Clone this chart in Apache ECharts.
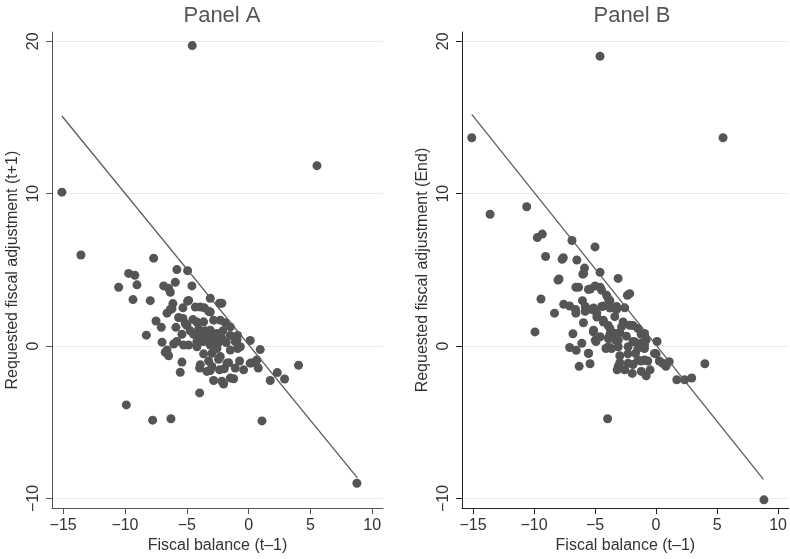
<!DOCTYPE html>
<html>
<head>
<meta charset="utf-8">
<title>Fiscal balance vs requested fiscal adjustment</title>
<script src="https://cdn.jsdelivr.net/npm/echarts@6/dist/echarts.min.js"></script>
<style>
  html, body { margin: 0; padding: 0; background: #fff; }
  #chart { width: 790px; height: 559px; }
</style>
</head>
<body>
<div id="chart"></div>
<script>
// 刻度
var xTicks = [-15, -10, -5, 0, 5, 10];
var yTicks = [-10, 0, 10, 20];

// Panel A: fiscal balance (t-1) vs requested adjustment (t+1)
var pointsA = [
  [-4.56, 19.72], [5.53, 11.84], [-15.1, 10.1], [-13.56, 5.98], [-7.68, 5.77], [8.76, -9.0],
  [-9.89, -3.86], [-7.76, -4.86], [-6.28, -4.77], [1.08, -4.91], [4.04, -1.26], [2.91, -2.16],
  [2.32, -1.74], [1.75, -2.26], [0.94, -0.23], [0.13, 0.37], [0.78, -1.44], [-10.51, 3.86],
  [-9.7, 4.77], [-9.2, 4.65], [-9.03, 4.02], [-9.35, 3.05], [-7.95, 2.98], [-8.27, 0.72],
  [-5.8, 5.02], [-4.93, 4.95], [-6.87, 3.95], [-6.47, 3.79], [-5.93, 4.19], [-4.58, 3.95],
  [-3.1, 3.14], [-2.35, 2.81], [-2.16, 2.81], [-4.93, 2.95], [-5.31, 2.51], [-6.12, 2.79],
  [-6.33, 2.4], [-6.6, 2.16], [-4.31, 2.56], [-3.9, 2.56], [-3.58, 2.51], [-3.23, 2.28],
  [-5.66, 1.88], [-5.31, 1.81], [-7.49, 1.65], [-7.06, 1.23], [-4.5, 1.74], [-4.18, 1.58],
  [-2.83, 1.7], [-2.29, 1.7], [-1.89, 1.53], [-5.88, 1.23], [-4.99, 1.35], [-4.72, 1.0],
  [-4.04, 1.12], [-3.5, 1.0], [-5.39, 0.77], [-4.45, 0.77], [-3.91, 0.65], [-3.23, 0.77],
  [-2.7, 0.65], [-2.08, 1.0], [-1.48, 0.7], [-0.89, 0.7], [-1.08, 0.3], [-7.0, 0.26],
  [-6.06, 0.14], [-5.8, 0.3], [-4.85, 0.07], [-4.18, 0.3], [-3.64, 0.3], [-3.1, 0.07],
  [-2.43, 0.23], [-1.81, 0.23], [-0.89, -0.16], [-6.74, -0.4], [-6.47, -0.63], [-3.64, -0.51],
  [-2.96, -0.47], [-2.56, -0.16], [-5.39, -1.05], [-5.53, -1.72], [-3.96, -1.44], [-3.1, -1.6],
  [-2.43, -0.86], [-2.35, -1.56], [-2.83, -2.26], [-2.02, -2.49], [-1.21, -2.14], [-1.62, -1.09],
  [-1.08, -1.44], [-0.73, -0.98], [-0.4, -1.56], [0.27, -1.09], [-3.96, -3.07], [-1.97, -1.49],
  [-3.23, -0.98], [-4.07, 0.23], [-3.1, 2.24], [-1.48, 1.26], [-5.12, 1.48], [-3.64, 1.59],
  [-3.1, 1.04], [-2.56, 0.83], [-3.37, 0.5], [-2.83, 0.29], [-2.16, 0.5], [-0.94, 0.4],
  [-6.6, -0.26], [-5.26, 0.07], [-4.18, -0.04], [-2.29, -0.69], [-1.48, -0.26], [-0.67, -0.04],
  [-3.91, -1.23], [-3.37, -1.66], [-2.97, -1.34], [-1.75, -1.12], [0.13, -1.12], [0.67, -0.91],
  [-2.16, -2.31], [-1.48, -2.1], [-6.33, 3.53], [-4.85, 3.0], [-6.2, 2.45]
];
// Panel A 拟合线 (端点)
var fitA = [[-15.1, 15.1], [8.8, -8.65]];

// Panel B: fiscal balance (t-1) vs requested adjustment (End)
var pointsB = [
  [-4.59, 19.02], [-15.1, 13.67], [5.49, 13.67], [-13.6, 8.65], [-10.6, 9.14], [8.84, -10.09],
  [-3.97, -4.77], [-9.92, 0.93], [-9.73, 7.12], [-9.32, 7.35], [-6.89, 6.93], [-5.0, 6.51],
  [-9.05, 5.88], [-7.7, 5.7], [-7.6, 5.8], [-6.49, 5.65], [-5.86, 5.12], [-6.0, 4.72], [-4.59, 4.84],
  [-3.11, 4.44], [-8.03, 4.33], [-6.57, 3.86], [-6.35, 3.86], [-5.54, 3.72], [-5.0, 3.95],
  [-4.46, 3.67], [-4.05, 3.33], [-2.16, 3.44], [-2.35, 3.33], [-9.43, 3.09], [-6.03, 2.98],
  [-7.57, 2.74], [-7.08, 2.63], [-8.32, 2.16], [-6.57, 2.16], [-5.81, 2.28], [-5.27, 2.4],
  [-4.86, 2.16], [-4.32, 2.63], [-3.78, 2.98], [-3.24, 2.4], [-2.57, 2.51], [-5.95, 1.53],
  [-5.14, 0.93], [-4.32, 1.7], [-3.92, 1.35], [-3.38, 1.93], [-2.7, 1.58], [-1.89, 1.35],
  [-6.81, 0.81], [-4.92, 0.3], [-6.08, 0.19], [-7.08, -0.09], [-6.54, -0.28], [-5.54, -0.47],
  [-5.41, -1.16], [-6.3, -1.33], [-4.11, -0.16], [-3.65, -0.16], [-3.78, 0.77], [-3.38, 0.42],
  [-2.97, 0.88], [-2.43, 0.65], [-1.89, 0.3], [-1.22, 0.77], [-0.81, 0.42], [-1.22, 0.19],
  [-0.95, -0.16], [0.08, 0.3], [0.0, -0.51], [0.27, -0.98], [0.81, -1.33], [1.08, -1.02],
  [-2.97, -0.63], [-2.3, -0.51], [-1.68, -0.47], [-2.97, -1.09], [-1.89, -1.21], [-1.22, -0.98],
  [-0.68, -0.98], [-3.19, -1.56], [-2.57, -1.56], [-1.95, -1.79], [-0.49, -1.56], [-0.81, -1.95],
  [1.7, -2.21], [2.35, -2.21], [2.92, -2.09], [4.0, -1.16],
  [-5.93, 4.77], [-7.95, 4.4], [-5.39, 3.75], [-4.58, 3.86], [-3.91, 3.1], [-6.6, 2.4],
  [-5.8, 2.6], [-5.12, 2.5], [-4.45, 2.6], [-3.77, 2.5], [-3.24, 2.6], [-4.85, 1.91],
  [-4.31, 1.58], [-3.77, 1.15], [-3.37, 0.83], [-2.83, 1.26], [-2.16, 1.37], [-1.48, 1.15],
  [-0.94, 0.83], [-5.12, 1.04], [-4.58, 0.61], [-3.91, 0.5], [-3.1, 0.39], [-1.75, 0.29],
  [-0.94, 0.07], [-4.98, 0.39], [-3.91, -0.04], [-3.1, -0.04], [-2.29, -0.04], [-1.48, -0.15],
  [-5.53, -0.48], [-3.1, -1.34], [-2.29, -1.13], [-1.48, -0.91], [-0.94, -0.91], [-0.13, -0.48],
  [0.54, -1.13], [-1.21, -1.66]
];
// Panel B 拟合线 (端点)
var fitB = [[-15.1, 15.2], [8.8, -8.75]];

var FONT = '"Liberation Sans", Arial, Helvetica, sans-serif';

// 负号用 unicode minus
function fmtTick(v) {
  return String(v).replace('-', '\u2212');
}

function makeXAxis(gridIndex, axisColor) {
  return {
    type: 'value',
    gridIndex: gridIndex,
    min: -15.9,
    max: 10.87,
    name: 'Fiscal balance (t\u20131)',
    nameLocation: 'middle',
    nameGap: 27,
    nameTextStyle: { fontFamily: FONT, fontSize: 16, color: '#333' },
    axisLine: { show: true, onZero: false, lineStyle: { color: axisColor, width: 1 } },
    axisTick: { show: true, inside: false, length: 6, customValues: xTicks, lineStyle: { color: axisColor } },
    axisLabel: { customValues: xTicks, margin: 9, fontFamily: FONT, fontSize: 16, color: '#333', formatter: fmtTick },
    splitLine: { show: false }
  };
}

function makeYAxis(gridIndex, title, axisColor) {
  return {
    type: 'value',
    gridIndex: gridIndex,
    min: -10.63,
    max: 20.61,
    name: title,
    nameLocation: 'middle',
    nameGap: 31,
    nameRotate: 90,
    nameTextStyle: { fontFamily: FONT, fontSize: 16, color: '#333' },
    axisLine: { show: true, onZero: false, lineStyle: { color: axisColor, width: 1 } },
    axisTick: { show: true, inside: false, length: 6, customValues: yTicks, lineStyle: { color: axisColor } },
    axisLabel: { customValues: yTicks, rotate: 90, margin: 10, fontFamily: FONT, fontSize: 16, color: '#333', formatter: fmtTick },
    splitLine: { show: true, lineStyle: { color: '#ebebeb', width: 1 } }
  };
}

function makeScatter(idx, data) {
  return {
    type: 'scatter',
    xAxisIndex: idx,
    yAxisIndex: idx,
    data: data,
    symbol: 'circle',
    symbolSize: 9,
    itemStyle: { color: '#555555', opacity: 1 },
    silent: true,
    z: 2
  };
}

function makeFit(idx, data) {
  return {
    type: 'line',
    xAxisIndex: idx,
    yAxisIndex: idx,
    data: data,
    showSymbol: false,
    symbol: 'none',
    lineStyle: { color: '#5c5c5c', width: 1.3 },
    silent: true,
    z: 3
  };
}

var chart = echarts.init(document.getElementById('chart'), null, { renderer: 'canvas' });
chart.setOption({
  backgroundColor: '#ffffff',
  animation: false,
  title: [
    { text: 'Panel A', left: 217, top: 0, textAlign: 'center', textStyle: { fontFamily: FONT, fontSize: 22, fontWeight: 'normal', color: '#555' } },
    { text: 'Panel B', left: 627, top: 0, textAlign: 'center', textStyle: { fontFamily: FONT, fontSize: 22, fontWeight: 'normal', color: '#555' } }
  ],
  grid: [
    { left: 52, top: 32, width: 331, height: 481, containLabel: false },
    { left: 462, top: 32, width: 331, height: 481, containLabel: false }
  ],
  xAxis: [makeXAxis(0, '#555'), makeXAxis(1, '#222')],
  yAxis: [
    makeYAxis(0, 'Requested fiscal adjustment (t+1)', '#555'),
    makeYAxis(1, 'Requested fiscal adjustment (End)', '#222')
  ],
  series: [
    makeScatter(0, pointsA),
    makeFit(0, fitA),
    makeScatter(1, pointsB),
    makeFit(1, fitB)
  ]
});
</script>
</body>
</html>
